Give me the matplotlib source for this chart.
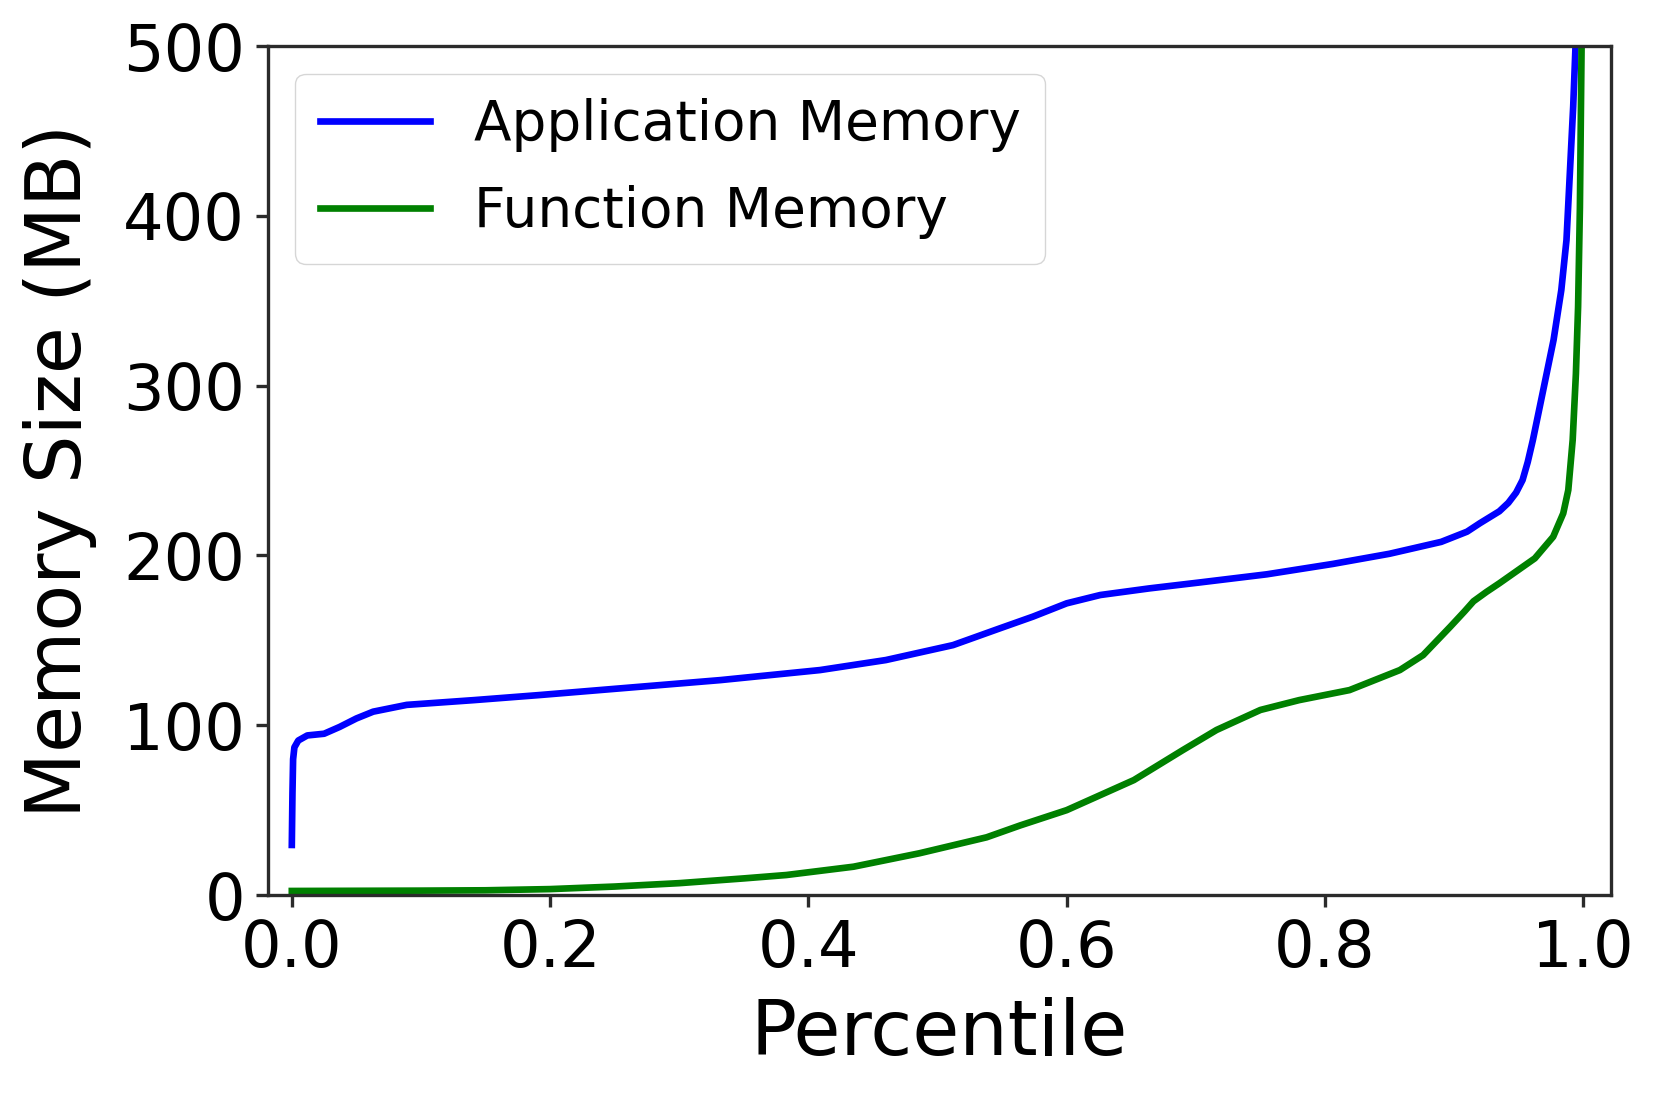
import matplotlib
matplotlib.use("Agg")
import matplotlib.pyplot as plt

# Application Memory CDF (percentile, MB)
app_pct = [0.000, 0.0005, 0.001, 0.002, 0.005, 0.012, 0.025, 0.037, 0.050, 0.063,
           0.089, 0.141, 0.192, 0.254, 0.332, 0.409, 0.460, 0.512, 0.548, 0.574,
           0.600, 0.626, 0.664, 0.703, 0.755, 0.806, 0.850, 0.890, 0.910, 0.920,
           0.935, 0.942, 0.948, 0.953, 0.957, 0.961, 0.969, 0.977, 0.983, 0.987,
           0.9896, 0.9922, 0.994]
app_mb = [29.5, 60, 80, 87, 91, 94, 95, 99, 104, 108,
          112, 114.8, 117.8, 121.7, 126.6, 132.5, 138.4, 147.2, 157, 164,
          171.8, 176.7, 180.6, 184.1, 188.9, 195, 201, 208, 214, 219,
          226, 231, 237, 244.4, 255, 268, 297.4, 326.9, 356.3, 385.7,
          425, 464.3, 500]

# Function Memory CDF (percentile, MB)
fn_pct = [0.000, 0.050, 0.100, 0.150, 0.200, 0.250, 0.300, 0.350, 0.383, 0.435,
          0.486, 0.538, 0.564, 0.600, 0.652, 0.690, 0.716, 0.750, 0.780, 0.819,
          0.858, 0.876, 0.897, 0.908, 0.915, 0.925, 0.935, 0.9625, 0.9767, 0.9845,
          0.9884, 0.9918, 0.9943, 0.996, 0.9974, 0.9987]
fn_mb = [2.4, 2.5, 2.6, 2.8, 3.5, 5.0, 7.0, 9.8, 11.8, 16.7,
         24.6, 34, 41, 50, 67.7, 85.4, 97.2, 109, 114.8, 120.7,
         132.5, 141.3, 158, 167, 173, 178.5, 183.6, 198.3, 211, 224.8,
         238.5, 268, 307, 346.5, 405, 500]

fig = plt.figure(figsize=(16.6, 10.97), dpi=100)
ax = fig.add_axes([0.1614, 0.1841, 0.8091, 0.7739])

ax.plot(app_pct, app_mb, color="blue", lw=4.8, label="Application Memory")
ax.plot(fn_pct, fn_mb, color="green", lw=4.8, label="Function Memory")

ax.set_xlim(-0.0185, 1.0215)
ax.set_ylim(0, 500)
ax.set_xticks([0.0, 0.2, 0.4, 0.6, 0.8, 1.0])
ax.set_yticks([0, 100, 200, 300, 400, 500])

for s in ax.spines.values():
    s.set_linewidth(2.4)
    s.set_color("#2b2b2b")
ax.tick_params(axis="both", labelsize=46, length=8.5, width=2.4, color="#2b2b2b", pad=8)

ax.set_xlabel("Percentile", fontsize=55, labelpad=12)
ax.set_ylabel("Memory Size (MB)", fontsize=55, labelpad=19)

leg = ax.legend(loc="upper left", fontsize=39.5, borderaxespad=0.5,
                labelspacing=0.6, borderpad=0.45)

fig.savefig("out.png", dpi=100)
